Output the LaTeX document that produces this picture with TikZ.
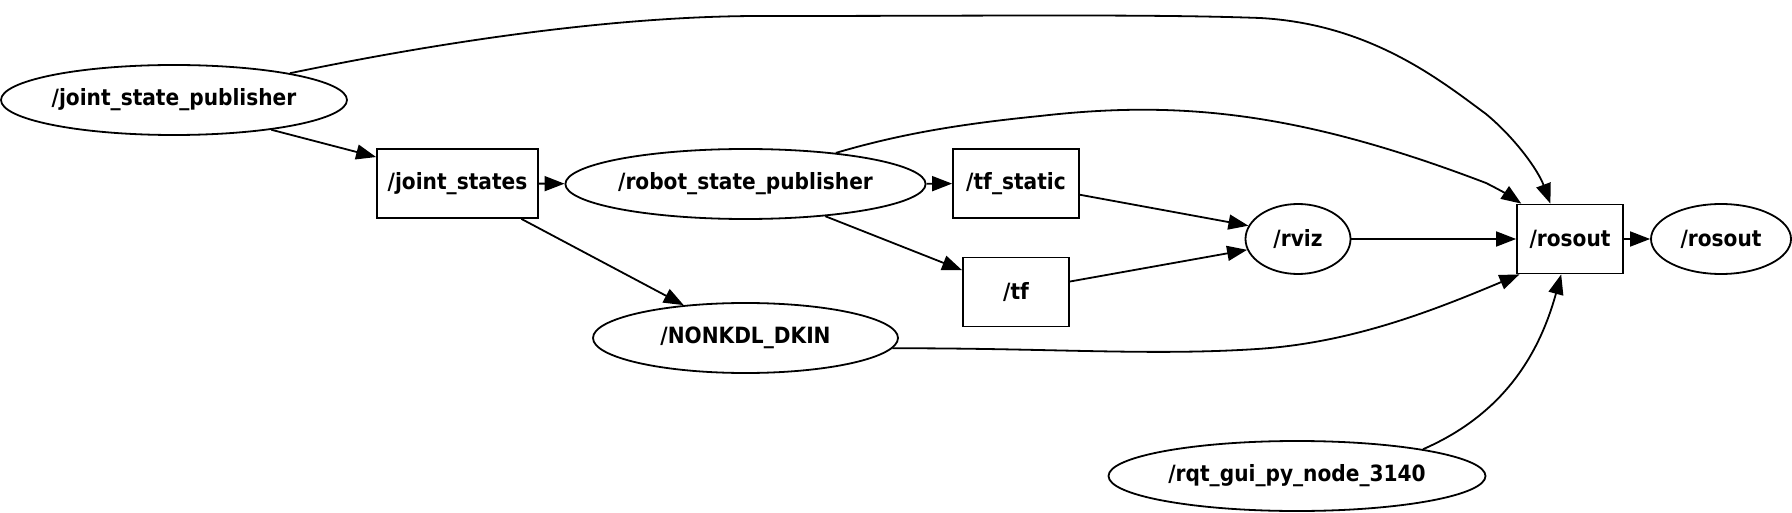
\documentclass[tikz,border=0pt]{standalone}
\usepackage{fontspec}
\setmainfont{DejaVu Sans Condensed}
\usepackage{tikz}
\usetikzlibrary{shapes.geometric, positioning, arrows.meta}
\tikzset{
rosnode/.style={shape=ellipse, draw, line width=0.9pt, inner sep=0, minimum height=35pt, font=\fontsize{11.2}{13}\selectfont\bfseries}, topic/.style={rosnode, shape=rectangle, minimum height=34.5pt}, edge/.style={line width=0.9pt, -{Triangle[length=10pt, width=7.5pt]}}}

\begin{document}
\begin{tikzpicture}[x=0.5pt, y=-0.5pt]
\useasboundingbox (0,0) rectangle (1792,513);
% nodes
\node [rosnode, minimum width=172.5pt] at (174, 100) (jsp) {/joint\_state\_publisher};
\node [topic, minimum width=80.5pt] at (457.5, 183.5) (js) {/joint\_states};
\node [rosnode, minimum width=176.5pt] at (745.5, 184) (rsp) {/robot\_state\_publisher};
\node [topic, minimum width=63pt] at (1016, 183.5) (ts) {/tf\_static};
\node [topic, minimum width=53pt] at (1016, 292) (tf) {/tf};
\node [rosnode, minimum width=152.5pt] at (745.5, 338) (nk) {/NONKDL\_DKIN};
\node [rosnode, minimum width=52.5pt] at (1298, 239) (rviz) {/rviz};
\node [topic, minimum width=53pt] at (1570, 239) (ro) {/rosout};
\node [rosnode, minimum width=70pt] at (1721, 239) (ron) {/rosout};
\node [rosnode, minimum width=188.5pt] at (1297, 476) (rqt) {/rqt\_gui\_py\_node\_3140};

% straight edges
\foreach \a/\b in {jsp.-17/js.162, js/rsp, rsp/ts, js.-29/nk.152, rsp.-22/tf.158, ts.-10/rviz.165, tf.11/rviz.192, rviz/ro, ro/ron}{
      \draw [edge] (\a) -- (\b);
}

% curved edges into /rosout
\draw [edge] (jsp.13) .. controls (450,40) and (620,16) .. (760,16)
      .. controls (1000,16) and (1150,14) .. (1260,18)
      .. controls (1370,24) and (1440,80) .. (1486,114)
      .. controls (1515,138) and (1538,170) .. (ro.119);
\draw [edge] (rsp.19) .. controls (900,134) and (960,124) .. (1040,116)
      .. controls (1180,100) and (1300,112) .. (1486,183)
      .. controls (1500,190) and (1510,196) .. (ro.144);
\draw [edge] (nk.-4) .. controls (1050,348) and (1150,356) .. (1257,349)
      .. controls (1350,343) and (1430,312) .. (ro.215);
\draw [edge] (rqt.12) .. controls (1490,420) and (1535,370) .. (ro.-104);
\end{tikzpicture}
\end{document}
